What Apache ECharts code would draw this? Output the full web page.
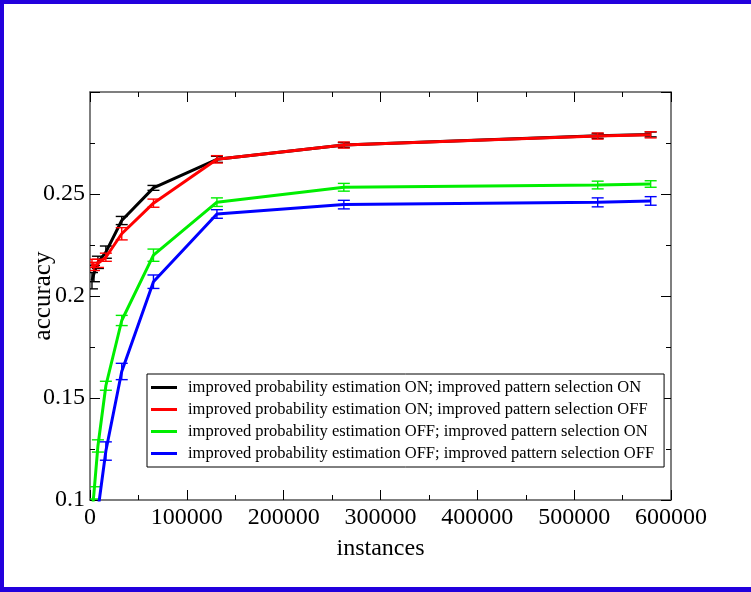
<!DOCTYPE html>
<html>
<head>
<meta charset="utf-8">
<script src="https://cdn.jsdelivr.net/npm/echarts@6/dist/echarts.min.js"></script>
<style>
  html, body { margin: 0; padding: 0; background: #fff; }
  #chart { width: 751px; height: 592px; }
</style>
</head>
<body>
<div id="chart"></div>
<script>
// Training-set sizes (number of instances)
const instances = [2048, 4096, 8192, 16384, 32768, 65536, 131072, 262144, 524288, 579000];

const seriesNames = [
  'improved probability estimation ON; improved pattern selection ON',
  'improved probability estimation ON; improved pattern selection OFF',
  'improved probability estimation OFF; improved pattern selection ON',
  'improved probability estimation OFF; improved pattern selection OFF'
];

// Mean accuracy per configuration
const accOnOn   = [0.2075, 0.2110, 0.2165, 0.2215, 0.2370, 0.2530, 0.2670, 0.2740, 0.2785, 0.2792];
const accOnOff  = [0.2160, 0.2145, 0.2160, 0.2190, 0.2305, 0.2455, 0.2670, 0.2740, 0.2784, 0.2790];
const accOffOn  = [0.0930, 0.1035, 0.1265, 0.1560, 0.1880, 0.2200, 0.2460, 0.2533, 0.2544, 0.2549];
const accOffOff = [null,   null,   0.0950, 0.1240, 0.1630, 0.2070, 0.2402, 0.2448, 0.2459, 0.2466];

// Half-width of the error bars
const errOnOn   = [0.0040, 0.0040, 0.0030, 0.0030, 0.0020, 0.0012, 0.0015, 0.0012, 0.0012, 0.0012];
const errOnOff  = [0.0020, 0.0020, 0.0020, 0.0020, 0.0030, 0.0020, 0.0018, 0.0015, 0.0015, 0.0015];
const errOffOn  = [0.0030, 0.0030, 0.0030, 0.0022, 0.0025, 0.0030, 0.0021, 0.0019, 0.0019, 0.0016];
const errOffOff = [null,   null,   0.0040, 0.0045, 0.0040, 0.0033, 0.0021, 0.0021, 0.0022, 0.0021];

// Axis ranges and tick spacing
const xRange = [0, 600000], xStep = 100000;
const yRange = [0.1, 0.3],  yStep = 0.05;

const colors = ['#000000', '#ff0000', '#00ee00', '#0000ff'];
const accs = [accOnOn, accOnOff, accOffOn, accOffOff];
const errs = [errOnOn, errOnOff, errOffOn, errOffOff];

const FONT = 'Liberation Serif';
const frameColor = '#555';

function makeErrorRenderer(color) {
  return function (params, api) {
    const x = api.value(0);
    const top = api.coord([x, api.value(2)]);
    const bot = api.coord([x, api.value(1)]);
    const hw = 6;
    const style = { stroke: color, lineWidth: 1.4 };
    return {
      type: 'group',
      children: [
        { type: 'line', shape: { x1: top[0], y1: top[1], x2: bot[0], y2: bot[1] }, style: style },
        { type: 'line', shape: { x1: top[0] - hw, y1: top[1], x2: top[0] + hw, y2: top[1] }, style: style },
        { type: 'line', shape: { x1: bot[0] - hw, y1: bot[1], x2: bot[0] + hw, y2: bot[1] }, style: style }
      ]
    };
  };
}

const series = [];
accs.forEach(function (acc, i) {
  series.push({
    name: seriesNames[i],
    type: 'line',
    data: instances.map(function (x, k) { return acc[k] == null ? null : [x, acc[k]]; }).filter(function (d) { return d; }),
    symbol: 'none',
    lineStyle: { color: colors[i], width: 3 },
    itemStyle: { color: colors[i] },
    clip: true,
    z: 2 + i,
    silent: true,
    animation: false
  });
  series.push({
    name: 'err' + i,
    type: 'custom',
    renderItem: makeErrorRenderer(colors[i]),
    data: instances.map(function (x, k) {
      return acc[k] == null ? null : [x, acc[k] - errs[i][k], acc[k] + errs[i][k]];
    }).filter(function (d) { return d; }),
    encode: { x: 0, y: [1, 2] },
    clip: true,
    z: 2 + i,
    silent: true,
    animation: false
  });
});

const tickCommon = {
  axisTick: { show: true, inside: true, length: 10, lineStyle: { color: '#000', width: 1 } },
  minorTick: { show: true, splitNumber: 2, length: 5, lineStyle: { color: '#000', width: 1 } },
  splitLine: { show: false },
  minorSplitLine: { show: false }
};

const labelStyle = { fontFamily: FONT, fontSize: 24, color: '#000' };

const option = {
  backgroundColor: '#fff',
  animation: false,
  grid: { left: 90, top: 92, width: 581, height: 408, containLabel: false },
  xAxis: [
    Object.assign({
      type: 'value', min: xRange[0], max: xRange[1], interval: xStep, position: 'bottom',
      axisLine: { show: true, onZero: false, lineStyle: { color: frameColor, width: 1.5 } },
      axisLabel: Object.assign({ margin: 6, formatter: function (v) { return String(v); } }, labelStyle),
      name: 'instances', nameLocation: 'middle', nameGap: 37, nameMoveOverlap: false,
      nameTextStyle: { fontFamily: FONT, fontSize: 24, color: '#000' }
    }, tickCommon),
    Object.assign({
      type: 'value', min: xRange[0], max: xRange[1], interval: xStep, position: 'top',
      axisLine: { show: true, onZero: false, lineStyle: { color: frameColor, width: 1.5 } },
      axisLabel: { show: false }
    }, tickCommon)
  ],
  yAxis: [
    Object.assign({
      type: 'value', min: yRange[0], max: yRange[1], interval: yStep, position: 'left',
      axisLine: { show: true, onZero: false, lineStyle: { color: frameColor, width: 1.5 } },
      axisLabel: Object.assign({
        margin: 5,
        formatter: function (v) { return v > yRange[1] - 1e-9 ? '' : String(Number(v.toFixed(2))); }
      }, labelStyle),
      name: 'accuracy', nameLocation: 'middle', nameGap: 34, nameRotate: 90, nameMoveOverlap: false,
      nameTextStyle: { fontFamily: FONT, fontSize: 25, color: '#000' }
    }, tickCommon),
    Object.assign({
      type: 'value', min: yRange[0], max: yRange[1], interval: yStep, position: 'right',
      axisLine: { show: true, onZero: false, lineStyle: { color: frameColor, width: 1.5 } },
      axisLabel: { show: false }
    }, tickCommon)
  ],
  legend: {
    orient: 'vertical',
    left: 147, top: 374,
    data: seriesNames,
    icon: 'rect',
    itemWidth: 26, itemHeight: 3, itemGap: 5,
    padding: [5, 10, 5, 4],
    borderColor: '#000', borderWidth: 1,
    backgroundColor: '#fff',
    selectedMode: false,
    textStyle: { fontFamily: FONT, fontSize: 16.5, color: '#000', padding: [0, 0, 0, 6] }
  },
  graphic: [
    // page frame bars
    { type: 'rect', left: 0, top: 0, shape: { width: 751, height: 4 }, style: { fill: '#2200dd' }, z: 100 },
    { type: 'rect', left: 0, top: 0, shape: { width: 4, height: 592 }, style: { fill: '#2200dd' }, z: 100 },
    { type: 'rect', left: 0, top: 587, shape: { width: 751, height: 5 }, style: { fill: '#2200dd' }, z: 100 }
  ],
  series: series
};

const chart = echarts.init(document.getElementById('chart'), null, { renderer: 'canvas' });
chart.setOption(option);
</script>
</body>
</html>
